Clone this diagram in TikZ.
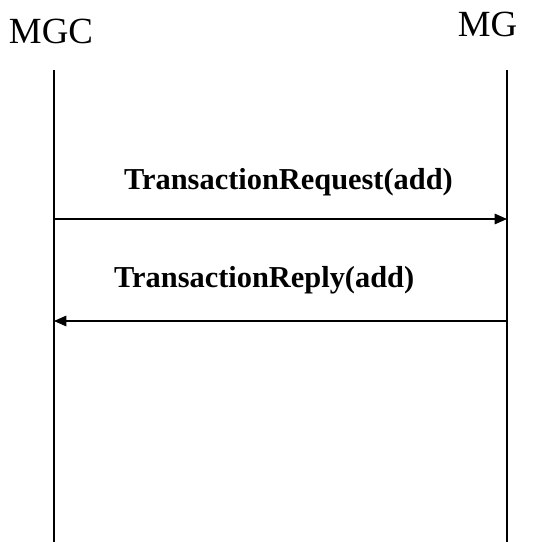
\documentclass[tikz,border=0pt]{standalone}
\usepackage{fontspec}
\setmainfont{Liberation Serif}
\usepackage{tikz}
\usetikzlibrary{arrows.meta}
\usetikzlibrary{positioning}

\tikzset{
	party/.style={font=\fontsize{21}{25}\selectfont, inner sep=0pt, anchor=base},
	msglabel/.style={font=\fontsize{17.3}{20}\selectfont\bfseries, inner sep=0pt, anchor=base},
	lifeline/.style={line width=0.8pt},
	signal/.style={line width=0.6pt, -{Triangle[length=7pt,width=6pt]}}
}

\begin{document}
\begin{tikzpicture}[x=0.02cm,y=-0.02cm]
		\useasboundingbox (0,0) rectangle (534,542);
		\node[party] (mgc) at (51,43.3) {MGC};
		\node[party] (mg) at (487.5,36.7) {MG};
		\coordinate (mgc top) at (54,70);
		\coordinate (mgc bot) at (54,542);
		\coordinate (mg top) at (507,70);
		\coordinate (mg bot) at (507,542);
		\draw[lifeline] (mgc top) -- (mgc bot);
		\draw[lifeline] (mg top) -- (mg bot);
		\coordinate (req from) at (54,219);
		\coordinate (req to) at (507,219);
		\coordinate (rep from) at (507,321);
		\coordinate (rep to) at (54,321);
		\node[msglabel] (req) at (288.5,189.3) {TransactionRequest(add)};
		\node[msglabel] (rep) at (264.2,287) {TransactionReply(add)};
		\draw[signal] (req from) -- (req to);
		\draw[signal] (rep from) -- (rep to);
	\end{tikzpicture}
\end{document}
